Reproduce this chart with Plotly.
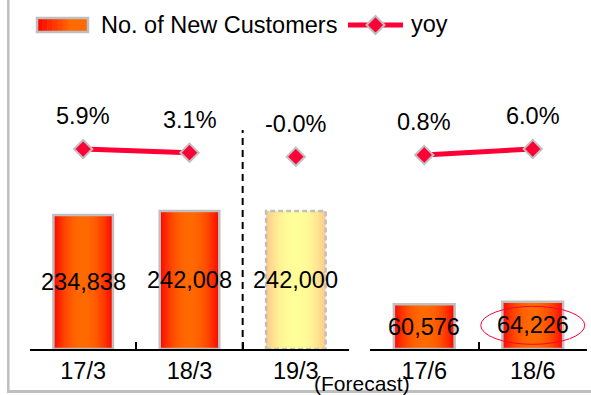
import plotly.graph_objects as go

W, H = 591, 395
FONT = "Arial, Liberation Sans, sans-serif"
RED = "#FF0036"
GRAY = "#BFBFBF"

# ---------------- data ----------------
cats_a = ["17/3", "18/3", "19/3"]
cust_a = [234838, 242008, 242000]
forecast_a = [False, False, True]
yoy_a = [5.9, 3.1, -0.003]

cats_b = ["17/6", "18/6"]
cust_b = [60576, 64226]
yoy_b = [0.8, 6.0]

highlight_b = "18/6"
forecast_note = "(Forecast)"
legend_bar = "No. of New Customers"
legend_line = "yoy"


def px(x):
    return x / W


def py(y):
    return 1 - y / H


def lerp(c1, c2, t):
    return "rgb({},{},{})".format(*[round(a + (b - a) * t) for a, b in zip(c1, c2)])


BAR_W = 0.56
ORANGE_RED_EDGE = (255, 8, 0)
ORANGE_CENTER = (255, 106, 0)
PALE_EDGE = (255, 204, 140)
PALE_CENTER = (255, 255, 153)

fig = go.Figure()


def gradient_bars(x, y, xa, ya, edge, center, n=16):
    for k in range(n):
        f = 1 - k / n
        t = 1 - f ** 2.2
        fig.add_trace(go.Bar(
            x=x, y=y, xaxis=xa, yaxis=ya, width=BAR_W * f,
            marker=dict(color=lerp(edge, center, t), line=dict(width=0)),
            hoverinfo="skip", showlegend=False))


def outline_bars(x, y, xa, ya):
    fig.add_trace(go.Bar(
        x=x, y=y, xaxis=xa, yaxis=ya, width=BAR_W,
        marker=dict(color="rgba(0,0,0,0)", line=dict(color=GRAY, width=2.5)),
        hoverinfo="skip", showlegend=False))


act_x = [c for c, f in zip(cats_a, forecast_a) if not f]
act_y = [v for v, f in zip(cust_a, forecast_a) if not f]
fc_x = [c for c, f in zip(cats_a, forecast_a) if f]
fc_y = [v for v, f in zip(cust_a, forecast_a) if f]

gradient_bars(act_x, act_y, "x", "y", ORANGE_RED_EDGE, ORANGE_CENTER)
outline_bars(act_x, act_y, "x", "y")
gradient_bars(fc_x, fc_y, "x", "y", PALE_EDGE, PALE_CENTER)
gradient_bars(cats_b, cust_b, "x2", "y2", ORANGE_RED_EDGE, ORANGE_CENTER)
outline_bars(cats_b, cust_b, "x2", "y2")

mk = dict(symbol="diamond", size=14, color=RED, line=dict(color=GRAY, width=2))
act_yoy = [v for v, f in zip(yoy_a, forecast_a) if not f]
fc_yoy = [v for v, f in zip(yoy_a, forecast_a) if f]
fig.add_trace(go.Scatter(x=act_x, y=act_yoy, xaxis="x", yaxis="y3", mode="lines+markers",
                         line=dict(color=RED, width=5), marker=mk, hoverinfo="skip", showlegend=False))
fig.add_trace(go.Scatter(x=fc_x, y=fc_yoy, xaxis="x", yaxis="y3", mode="markers",
                         marker=mk, hoverinfo="skip", showlegend=False))
fig.add_trace(go.Scatter(x=cats_b, y=yoy_b, xaxis="x2", yaxis="y4", mode="lines+markers",
                         line=dict(color=RED, width=5), marker=mk, hoverinfo="skip", showlegend=False))

annotations = []
LBL = dict(size=23.5, color="black", family=FONT)
for c, v in zip(cats_a, cust_a):
    annotations.append(dict(x=c, y=v / 2, xref="x", yref="y", text=f"{v:,}", showarrow=False, font=LBL))
for c, v in zip(cats_b, cust_b):
    annotations.append(dict(x=c, y=v / 2, xref="x2", yref="y2", text=f"{v:,}", showarrow=False, font=LBL))
for c, v in zip(cats_a, yoy_a):
    annotations.append(dict(x=c, y=v, xref="x", yref="y3", yshift=33, text=f"{v:.1f}%", showarrow=False, font=LBL))
for c, v in zip(cats_b, yoy_b):
    annotations.append(dict(x=c, y=v, xref="x2", yref="y4", yshift=33, text=f"{v:.1f}%", showarrow=False, font=LBL))

annotations.append(dict(x=px(362), y=py(383), xref="paper", yref="paper", xanchor="center", yanchor="middle",
                        text=forecast_note, showarrow=False, font=dict(size=21, color="black", family=FONT)))
annotations.append(dict(x=px(99), y=py(25), xref="paper", yref="paper", xanchor="left", yanchor="middle",
                        text=legend_bar, showarrow=False, font=LBL))
annotations.append(dict(x=px(409), y=py(24), xref="paper", yref="paper", xanchor="left", yanchor="middle",
                        text=legend_line, showarrow=False, font=LBL))

shapes = []
# forecast dashed outline
for c, v in zip(fc_x, fc_y):
    i = cats_a.index(c)
    shapes.append(dict(type="rect", xref="x", yref="y", x0=i - BAR_W / 2, x1=i + BAR_W / 2, y0=0, y1=v,
                       line=dict(color=GRAY, width=2.5, dash="5px,3px")))
# separator between actual and forecast
first_fc = forecast_a.index(True)
shapes.append(dict(type="line", xref="x", yref="paper", x0=first_fc - 0.5, x1=first_fc - 0.5,
                   y0=py(349), y1=py(130), line=dict(color="black", width=2, dash="7px,5px")))
# highlight ellipse
hi = cats_b.index(highlight_b)
shapes.append(dict(type="circle", xref="x2", yref="y2", xsizemode="pixel", ysizemode="pixel",
                   xanchor=hi, yanchor=cust_b[hi] / 2, x0=-52, x1=52, y0=-19, y1=19,
                   line=dict(color=RED, width=1)))
# outer frame
shapes.append(dict(type="line", xref="paper", yref="paper", x0=px(8.3), x1=px(8.3), y0=py(0), y1=py(391.5),
                   line=dict(color=GRAY, width=2.5)))
shapes.append(dict(type="line", xref="paper", yref="paper", x0=px(7), x1=px(591), y0=py(391.5), y1=py(391.5),
                   line=dict(color=GRAY, width=3)))
# legend: gradient patch
lx0, lx1, ly0, ly1 = 37, 88, 18, 32
nstrip = 10
for k in range(nstrip):
    a = lx0 + (lx1 - lx0) * k / nstrip
    b = lx0 + (lx1 - lx0) * (k + 1) / nstrip
    t = min(1, k / (nstrip * 0.6))
    shapes.append(dict(type="rect", xref="paper", yref="paper", x0=px(a), x1=px(b) + 0.001,
                       y0=py(ly1), y1=py(ly0), line=dict(width=0),
                       fillcolor=lerp(ORANGE_RED_EDGE, ORANGE_CENTER, t)))
shapes.append(dict(type="rect", xref="paper", yref="paper", x0=px(lx0), x1=px(lx1), y0=py(ly1), y1=py(ly0),
                   line=dict(color=GRAY, width=2.5)))
# legend: line with diamond
shapes.append(dict(type="line", xref="paper", yref="paper", x0=px(348), x1=px(403), y0=py(25), y1=py(25),
                   line=dict(color=RED, width=5)))
cx, cy, r = 375.5, 25, 9
shapes.append(dict(type="path", xref="paper", yref="paper",
                   path=f"M {px(cx - r)},{py(cy)} L {px(cx)},{py(cy - r)} L {px(cx + r)},{py(cy)} L {px(cx)},{py(cy + r)} Z",
                   fillcolor=RED, line=dict(color=GRAY, width=2)))

TOP, BOT = 60, 349
R1 = (BOT - TOP) / 5.704e-4
R2 = (BOT - TOP) / 7.37e-4
ydom = [py(BOT), py(TOP)]

xcommon = dict(type="category", showline=True, linecolor="black", linewidth=2, ticks="inside",
               tickson="boundaries", ticklen=7, tickwidth=2, tickcolor="black", showgrid=False,
               zeroline=False, tickfont=LBL, fixedrange=True)

fig.update_layout(
    width=W, height=H, margin=dict(l=0, r=0, t=0, b=0),
    paper_bgcolor="white", plot_bgcolor="white", barmode="overlay", showlegend=False,
    font=dict(family=FONT, color="black"),
    xaxis=dict(domain=[px(30), px(349)], anchor="y", categoryorder="array", categoryarray=cats_a,
               range=[-0.5, len(cats_a) - 0.5], **xcommon),
    xaxis2=dict(domain=[px(370), px(587)], anchor="y2", categoryorder="array", categoryarray=cats_b,
                range=[-0.5, len(cats_b) - 0.5], **xcommon),
    yaxis=dict(domain=ydom, range=[0, R1], visible=False, anchor="x", fixedrange=True),
    yaxis2=dict(domain=ydom, range=[0, R2], visible=False, anchor="x2", fixedrange=True),
    yaxis3=dict(overlaying="y", range=[-147.9, 74.4], visible=False, anchor="x", fixedrange=True),
    yaxis4=dict(overlaying="y2", range=[-167.3, 83.1], visible=False, anchor="x2", fixedrange=True),
    annotations=annotations, shapes=shapes,
)

fig.write_html("out.html")
